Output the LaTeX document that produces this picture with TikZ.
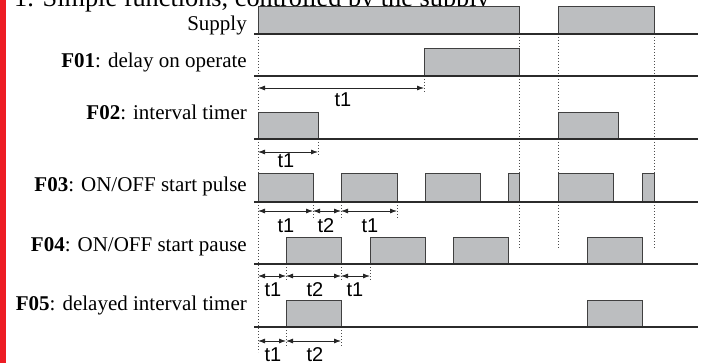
\documentclass[tikz,border=0pt]{standalone}
\usepackage{fontspec}
\setmainfont{Liberation Serif}
\newfontfamily\arialf{Liberation Sans}
\usetikzlibrary{arrows.meta}
\definecolor{boxgray}{HTML}{BCBEC0}
\definecolor{barred}{HTML}{ED1C24}
\definecolor{linegray}{HTML}{2B2B2B}
\begin{document}
\begin{tikzpicture}[x=1pt,y=-1pt,
  sig/.style={draw=linegray,line width=1.7pt},
  pulse/.style={fill=boxgray,draw=black!75,line width=1pt},
  tick/.style={draw=black!70,line width=0.9pt,dash pattern=on 1pt off 2pt},
  dim/.style={{Latex[length=7pt,width=5pt]}-{Latex[length=7pt,width=5pt]},line width=0.8pt,draw=black!85},
  lbl/.style={anchor=base east,inner sep=0pt,font=\fontsize{21}{25}\selectfont},
  tl/.style={inner sep=0pt,font=\arialf\fontsize{20}{22}\selectfont}]
\useasboundingbox (0,0) rectangle (708,363);
\fill[barred] (0,0) rectangle (6,363);
\node[anchor=base west,inner sep=0pt,font=\fontsize{26.3}{30}\selectfont] (title) at (14,7) {1. Simple functions, controlled by the supply};

% row labels
\node[lbl] (lsup) at (247,31) {Supply};
\node[lbl] (lf01) at (247,68) {\textbf{F01}: delay on operate};
\node[lbl] (lf02) at (247,120) {\textbf{F02}: interval timer};
\node[lbl] (lf03) at (247,192) {\textbf{F03}: ON/OFF start pulse};
\node[lbl] (lf04) at (247,251) {\textbf{F04}: ON/OFF start pause};
\node[lbl] (lf05) at (247,310) {\textbf{F05}: delayed interval timer};

% long dotted guides
\draw[tick] (258,34) -- (258,352);
\draw[tick] (519,34) -- (519,248);
\draw[tick] (558,34) -- (558,248);
\draw[tick] (654,34) -- (654,248);

% short dotted guides
\draw[tick] (424,76) -- (424,92);
\draw[tick] (318,139) -- (318,156);
\foreach \x in {313,341,397} \draw[tick] (\x,202) -- (\x,218);
\foreach \x in {286,341,370} \draw[tick] (\x,264) -- (\x,281);
\foreach \x in {286,341} \draw[tick] (\x,327) -- (\x,347);

% pulses
\draw[pulse] (258,7) rectangle (519,34);
\draw[pulse] (558,7) rectangle (654,34);
\draw[pulse] (424,49) rectangle (519,76);
\draw[pulse] (258,113) rectangle (318,139);
\draw[pulse] (558,113) rectangle (618,139);
\foreach \a/\b in {258/313,341/397,425/480,508/519,558/613,642/654}
  \draw[pulse] (\a,174) rectangle (\b,202);
\foreach \a/\b in {286/341,370/425,453/508,587/642}
  \draw[pulse] (\a,237) rectangle (\b,264);
\foreach \a/\b in {286/341,587/642}
  \draw[pulse] (\a,300) rectangle (\b,327);

% baselines
\foreach \y in {34,76,139,202,264,327} \draw[sig] (254,\y) -- (698,\y);

% dimension arrows
\coordinate (a0) at (258,88); \coordinate (a1) at (424,88);
\draw[dim] (a0) -- (a1);
\node[tl] (t01) at (343,100) {t1};

\coordinate (b0) at (258,152); \coordinate (b1) at (318,152);
\draw[dim] (b0) -- (b1);
\node[tl] (t02) at (286,161) {t1};

\coordinate (c0) at (258,211); \coordinate (c1) at (313,211);
\coordinate (c2) at (341,211); \coordinate (c3) at (397,211);
\draw[dim] (c0) -- (c1);
\draw[dim] (c1) -- (c2);
\draw[dim] (c2) -- (c3);
\node[tl] (t03a) at (286,226) {t1};
\node[tl] (t03b) at (326,226) {t2};
\node[tl] (t03c) at (370,226) {t1};

\coordinate (d0) at (258,276); \coordinate (d1) at (286,276);
\coordinate (d2) at (341,276); \coordinate (d3) at (370,276);
\draw[dim] (d0) -- (d1);
\draw[dim] (d1) -- (d2);
\draw[dim] (d2) -- (d3);
\node[tl] (t04a) at (273,290) {t1};
\node[tl] (t04b) at (315,290) {t2};
\node[tl] (t04c) at (355,290) {t1};

\coordinate (e0) at (258,341); \coordinate (e1) at (286,341);
\coordinate (e2) at (341,341);
\draw[dim] (e0) -- (e1);
\draw[dim] (e1) -- (e2);
\node[tl] (t05a) at (273,355) {t1};
\node[tl] (t05b) at (315,355) {t2};
\end{tikzpicture}
\end{document}
